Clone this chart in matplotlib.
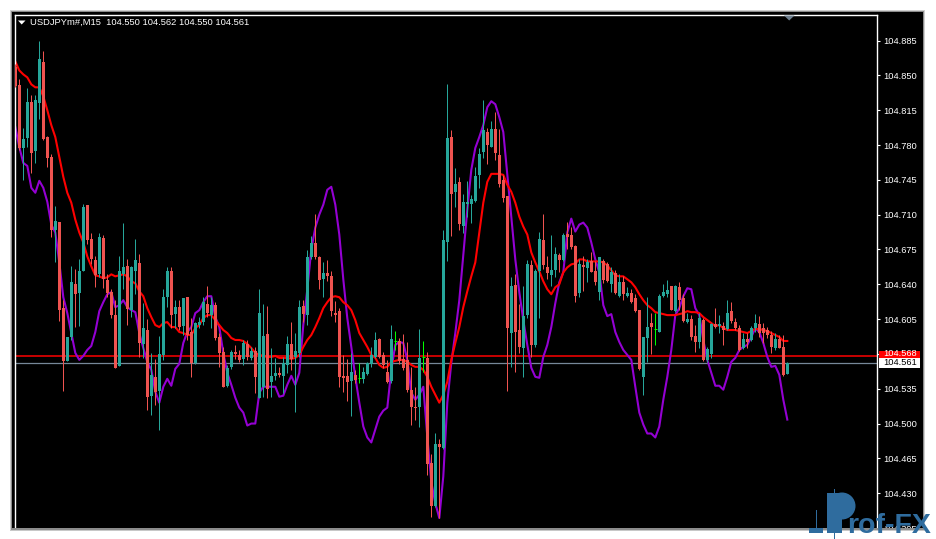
import matplotlib
matplotlib.use("Agg")
import matplotlib.pyplot as plt
import numpy as np
from matplotlib.patches import Rectangle, Polygon, Circle

plt.rcParams['font.family'] = ['Liberation Sans', 'DejaVu Sans']

title_text = "USDJPYm#,M15  104.550 104.562 104.550 104.561"
bid_price = 104.561
ask_price = 104.568
tick_prices = [104.885, 104.850, 104.815, 104.780, 104.745, 104.710, 104.675, 104.640,
               104.605, 104.570, 104.535, 104.500, 104.465, 104.430, 104.395]
tick_labels = ['104.885', '104.850', '104.815', '104.780', '104.745', '104.710', '104.675', '104.640',
               '104.605', '', '104.535', '104.500', '104.465', '104.430', '104.395']

opens = [104.858,104.840,104.777,104.787,104.823,104.774,104.822,104.863,104.788,104.768,
104.695,104.703,104.616,104.563,104.587,104.640,104.631,104.653,104.720,104.686,
104.664,104.650,104.687,104.644,104.632,104.609,104.558,104.650,104.658,104.614,
104.653,104.661,104.580,104.594,104.528,104.547,104.533,104.569,104.627,104.653,
104.610,104.617,104.598,104.627,104.592,104.561,104.599,104.602,104.620,104.609,
104.619,104.587,104.572,104.538,104.557,104.572,104.569,104.565,104.580,104.566,
104.573,104.526,104.537,104.590,104.542,104.548,104.551,104.548,104.559,104.580,
104.567,104.571,104.618,104.609,104.667,104.681,104.667,104.645,104.651,104.648,
104.611,104.613,104.548,104.548,104.543,104.549,104.546,104.545,104.550,104.560,
104.567,104.585,104.569,104.552,104.543,104.583,104.583,104.565,104.564,104.534,
104.517,104.517,104.567,104.566,104.460,104.417,104.479,104.475,104.683,104.788,
104.733,104.743,104.699,104.721,104.721,104.724,104.750,104.773,104.793,104.778,
104.796,104.770,104.745,104.729,104.591,104.639,104.594,104.576,104.609,104.659,
104.579,104.653,104.685,104.657,104.649,104.654,104.669,104.664,104.691,104.690,
104.678,104.631,104.659,104.656,104.663,104.653,104.632,104.663,104.660,104.640,
104.651,104.628,104.642,104.628,104.631,104.626,104.614,104.547,104.586,104.601,
104.595,104.592,104.628,104.630,104.638,104.613,104.637,104.626,104.602,104.605,
104.588,104.582,104.604,104.564,104.570,104.600,104.598,104.598,104.595,104.613,
104.602,104.596,104.576,104.585,104.584,104.596,104.600,104.596,104.594,104.589,
104.576,104.585,104.577,104.550]

closes = [104.839,104.777,104.786,104.823,104.772,104.825,104.866,104.786,104.767,104.695,
104.704,104.614,104.563,104.587,104.642,104.630,104.653,104.718,104.685,104.665,
104.649,104.688,104.645,104.631,104.609,104.556,104.653,104.657,104.615,104.657,
104.664,104.581,104.596,104.527,104.549,104.532,104.570,104.627,104.653,104.609,
104.617,104.597,104.626,104.589,104.561,104.601,104.602,104.622,104.611,104.619,
104.586,104.571,104.537,104.556,104.572,104.570,104.564,104.581,104.567,104.573,
104.547,104.611,104.588,104.535,104.548,104.551,104.549,104.561,104.580,104.565,
104.573,104.617,104.610,104.667,104.682,104.667,104.644,104.651,104.648,104.613,
104.609,104.547,104.546,104.542,104.552,104.544,104.546,104.552,104.561,104.569,
104.584,104.567,104.559,104.542,104.585,104.583,104.563,104.556,104.534,104.517,
104.516,104.566,104.567,104.459,104.417,104.479,104.476,104.685,104.787,104.731,
104.741,104.701,104.723,104.723,104.726,104.749,104.771,104.795,104.780,104.796,
104.772,104.741,104.727,104.596,104.638,104.592,104.577,104.608,104.660,104.579,
104.653,104.686,104.659,104.651,104.654,104.670,104.664,104.690,104.688,104.677,
104.628,104.660,104.657,104.662,104.652,104.642,104.667,104.644,104.643,104.652,
104.631,104.642,104.630,104.631,104.622,104.613,104.555,104.587,104.597,104.597,
104.595,104.628,104.632,104.634,104.614,104.638,104.624,104.603,104.605,104.587,
104.582,104.606,104.564,104.575,104.600,104.597,104.600,104.594,104.611,104.603,
104.596,104.574,104.585,104.582,104.596,104.601,104.591,104.591,104.589,104.577,
104.585,104.576,104.549,104.561]

highs = [104.861,104.846,104.797,104.837,104.830,104.830,104.885,104.875,104.789,104.771,
104.719,104.703,104.624,104.587,104.658,104.655,104.665,104.721,104.720,104.692,
104.668,104.692,104.690,104.650,104.635,104.624,104.668,104.702,104.665,104.658,
104.686,104.670,104.621,104.605,104.571,104.565,104.588,104.635,104.657,104.657,
104.624,104.624,104.626,104.627,104.606,104.602,104.607,104.627,104.638,104.627,
104.622,104.591,104.577,104.559,104.574,104.579,104.574,104.584,104.584,104.577,
104.577,104.635,104.620,104.618,104.576,104.566,104.557,104.567,104.588,104.602,
104.591,104.624,104.624,104.674,104.689,104.711,104.668,104.662,104.664,104.653,
104.623,104.616,104.569,104.565,104.571,104.554,104.561,104.557,104.562,104.577,
104.592,104.586,104.572,104.564,104.599,104.593,104.586,104.590,104.582,104.557,
104.537,104.595,104.583,104.572,104.469,104.491,104.484,104.695,104.841,104.795,
104.757,104.748,104.731,104.744,104.730,104.758,104.777,104.825,104.797,104.804,
104.813,104.796,104.750,104.729,104.647,104.650,104.620,104.638,104.664,104.664,
104.655,104.693,104.711,104.668,104.690,104.677,104.671,104.692,104.703,104.698,
104.679,104.665,104.668,104.665,104.672,104.663,104.667,104.665,104.662,104.657,
104.654,104.650,104.648,104.637,104.635,104.630,104.614,104.587,104.627,104.611,
104.611,104.630,104.640,104.644,104.638,104.639,104.642,104.630,104.611,104.609,
104.599,104.611,104.606,104.577,104.601,104.616,104.609,104.602,104.624,104.622,
104.606,104.599,104.591,104.591,104.598,104.610,104.608,104.601,104.597,104.593,
104.591,104.589,104.589,104.562]

lows = [104.838,104.775,104.745,104.778,104.752,104.762,104.806,104.785,104.758,104.688,
104.662,104.603,104.533,104.563,104.584,104.597,104.598,104.653,104.680,104.660,
104.637,104.647,104.636,104.627,104.606,104.556,104.558,104.635,104.599,104.607,
104.630,104.567,104.566,104.514,104.509,104.519,104.494,104.564,104.617,104.596,
104.596,104.594,104.589,104.584,104.547,104.560,104.596,104.599,104.607,104.596,
104.584,104.557,104.537,104.537,104.555,104.565,104.562,104.559,104.564,104.564,
104.531,104.526,104.527,104.526,104.527,104.544,104.547,104.531,104.551,104.554,
104.512,104.567,104.602,104.599,104.665,104.665,104.635,104.627,104.643,104.608,
104.602,104.537,104.532,104.523,104.508,104.541,104.541,104.541,104.549,104.557,
104.566,104.566,104.556,104.541,104.541,104.574,104.560,104.554,104.532,104.499,
104.504,104.497,104.552,104.448,104.406,104.416,104.405,104.474,104.663,104.689,
104.718,104.695,104.692,104.708,104.702,104.723,104.737,104.767,104.761,104.778,
104.765,104.738,104.723,104.533,104.557,104.552,104.571,104.547,104.606,104.567,
104.577,104.606,104.655,104.645,104.638,104.647,104.652,104.663,104.675,104.675,
104.622,104.627,104.633,104.642,104.652,104.639,104.624,104.641,104.642,104.632,
104.630,104.627,104.624,104.627,104.621,104.612,104.554,104.529,104.562,104.570,
104.579,104.592,104.627,104.627,104.614,104.612,104.614,104.602,104.601,104.584,
104.572,104.576,104.563,104.562,104.566,104.596,104.591,104.579,104.594,104.601,
104.594,104.573,104.575,104.576,104.583,104.592,104.587,104.581,104.586,104.571,
104.574,104.576,104.548,104.550]

fast_ma = [104.798,104.778,104.762,104.759,104.737,104.732,104.744,104.737,104.723,104.700,
104.692,104.662,104.627,104.611,104.591,104.571,104.564,104.568,104.574,104.578,
104.592,104.613,104.622,104.630,104.632,104.617,104.619,104.624,104.617,104.614,
104.612,104.591,104.576,104.562,104.554,104.532,104.521,104.537,104.545,104.538,
104.555,104.560,104.581,104.592,104.597,104.611,104.614,104.622,104.628,104.628,
104.607,104.597,104.571,104.551,104.539,104.526,104.516,104.511,104.498,104.500,
104.500,104.531,104.537,104.537,104.537,104.537,104.527,104.528,104.539,104.548,
104.539,104.551,104.599,104.635,104.675,104.697,104.710,104.720,104.735,104.738,
104.720,104.690,104.645,104.606,104.577,104.547,104.521,104.497,104.486,104.481,
104.494,104.507,104.513,104.516,104.554,104.579,104.582,104.581,104.564,104.531,
104.524,104.529,104.537,104.487,104.441,104.420,104.405,104.447,104.521,104.561,
104.591,104.624,104.670,104.715,104.755,104.777,104.788,104.800,104.818,104.824,
104.821,104.808,104.793,104.750,104.708,104.665,104.632,104.604,104.579,104.556,
104.547,104.546,104.567,104.579,104.597,104.621,104.642,104.652,104.692,104.706,
104.693,104.700,104.702,104.697,104.682,104.665,104.652,104.619,104.608,104.610,
104.592,104.582,104.574,104.569,104.564,104.537,104.511,104.499,104.490,104.490,
104.486,104.497,104.524,104.547,104.574,104.609,104.616,104.628,104.636,104.635,
104.616,104.609,104.584,104.564,104.551,104.538,104.538,104.534,104.547,104.562,
104.566,104.574,104.577,104.579,104.587,104.596,104.592,104.581,104.567,104.557,
104.558,104.549,104.524,104.504]

slow_ma = [104.864,104.855,104.851,104.848,104.841,104.838,104.838,104.829,104.815,104.800,
104.788,104.768,104.748,104.732,104.722,104.705,104.692,104.682,104.668,104.658,
104.649,104.648,104.646,104.647,104.650,104.648,104.649,104.650,104.648,104.643,
104.641,104.633,104.628,104.616,104.607,104.599,104.597,104.601,104.602,104.597,
104.597,104.592,104.591,104.589,104.589,104.596,104.599,104.606,104.609,104.609,
104.604,104.599,104.594,104.591,104.586,104.584,104.584,104.583,104.580,104.576,
104.571,104.569,104.568,104.567,104.567,104.568,104.566,104.566,104.566,104.565,
104.566,104.569,104.577,104.584,104.589,104.597,104.606,104.616,104.622,104.627,
104.628,104.627,104.622,104.619,104.614,104.604,104.591,104.584,104.577,104.569,
104.566,104.559,104.556,104.557,104.562,104.563,104.564,104.564,104.562,104.559,
104.557,104.557,104.554,104.547,104.537,104.529,104.521,104.529,104.542,104.564,
104.581,104.597,104.617,104.633,104.648,104.662,104.692,104.722,104.743,104.751,
104.751,104.751,104.750,104.740,104.733,104.722,104.708,104.698,104.690,104.672,
104.662,104.653,104.643,104.635,104.630,104.637,104.640,104.652,104.657,104.660,
104.661,104.665,104.665,104.663,104.663,104.663,104.663,104.662,104.659,104.654,
104.649,104.648,104.648,104.645,104.642,104.637,104.630,104.624,104.619,104.616,
104.612,104.611,104.610,104.609,104.609,104.609,104.610,104.611,104.613,104.612,
104.612,104.611,104.607,104.604,104.601,104.598,104.599,104.596,104.594,104.594,
104.594,104.593,104.592,104.591,104.593,104.595,104.595,104.594,104.593,104.591,
104.589,104.587,104.583,104.583]

UP, DOWN, DOJI = '#26a69a', '#ef5350', '#00ff00'
W, H = 936, 539
fig = plt.figure(figsize=(W / 100, H / 100), dpi=100, facecolor='white')

# window frame
bg = fig.add_axes([0, 0, 1, 1], zorder=0)
bg.set_xlim(0, W); bg.set_ylim(H, 0); bg.axis('off')
bg.add_patch(Rectangle((10, 10), 915, 522, fc='#cfcfcf', ec='none'))
bg.add_patch(Rectangle((11, 11), 913, 519, fc='#8c8c8c', ec='none'))
bg.add_patch(Rectangle((12, 12), 911, 516, fc='black', ec='none'))

# price pane
L, T, R, B = 15, 15, 877, 528
ax = fig.add_axes([L / W, 1 - B / H, (R - L) / W, (B - T) / H], zorder=1, facecolor='black')
ax.set_xlim((L - 15.3) / 4, (R - 15.3) / 4)
ax.set_ylim(104.3951, 104.9107)
x = np.arange(len(opens))
o, c, hi, lo = map(np.array, (opens, closes, highs, lows))

ax.axhline(ask_price, color='#ff0000', lw=1.1, zorder=1)
ax.axhline(bid_price, color='#778899', lw=0.9, zorder=1)
ax.plot(x, fast_ma, color='#9400d3', lw=1.5, zorder=2, solid_joinstyle='round')
ax.plot(x, slow_ma, color='#ff0000', lw=1.5, zorder=2.1, solid_joinstyle='round')

colors = np.where(c > o, UP, np.where(c < o, DOWN, DOJI))
ax.vlines(x, lo, hi, colors=colors, lw=0.72, zorder=3)
body = c != o
ax.bar(x[body], np.abs(c - o)[body], bottom=np.minimum(o, c)[body], width=0.8,
       color=colors[body], lw=0, zorder=4)
ax.hlines(o[~body], x[~body] - 0.4, x[~body] + 0.4, colors=DOJI, lw=0.72, zorder=4)

for s in ('top', 'left', 'right'):
    ax.spines[s].set_color('white'); ax.spines[s].set_linewidth(1.0)
ax.spines['bottom'].set_visible(False)
ax.set_xticks([])
ax.set_yticks(tick_prices)
ax.set_yticklabels(tick_labels)
ax.tick_params(axis='y', left=False, labelleft=False, right=True, labelright=True,
               colors='white', length=2.5, width=0.8, pad=2, labelsize=6.7)

trans = ax.get_yaxis_transform()
bw = 41 / (R - L); bx = 1 + 2 / (R - L)
ax.add_patch(Rectangle((bx, ask_price - 0.0053), bw, 0.0106, transform=trans, fc='#ff0000',
                       ec='none', clip_on=False, zorder=6))
ax.text(bx + 4 / (R - L), ask_price + 0.002, f'{ask_price:.3f}', transform=trans, color='white',
        fontsize=6.7, va='center', ha='left', zorder=6.1, clip_on=False)
ax.add_patch(Rectangle((bx, bid_price - 0.0053), bw, 0.0106, transform=trans, fc='white',
                       ec='none', clip_on=False, zorder=7))
ax.text(bx + 4 / (R - L), bid_price, f'{bid_price:.3f}', transform=trans, color='black',
        fontsize=6.7, va='center', ha='left', zorder=7.1, clip_on=False)

# overlay: header, markers, bottom shadow, logo
top = fig.add_axes([0, 0, 1, 1], zorder=5)
top.set_xlim(0, W); top.set_ylim(H, 0); top.axis('off'); top.patch.set_alpha(0)
top.add_patch(Polygon([(18, 20.5), (25.5, 20.5), (21.7, 24.5)], fc='white', ec='none'))
top.text(30, 22.3, title_text, color='white', fontsize=6.75, va='center', ha='left')
top.add_patch(Polygon([(784, 15.5), (794.5, 15.5), (789.2, 20.5)], fc='#6f8090', ec='none'))
top.add_patch(Rectangle((0, 529.6), 936, 10, fc='white', ec='none'))
top.add_patch(Rectangle((11, 528), 913, 1.6, fc='#8c8c8c', ec='none'))
top.add_patch(Rectangle((10, 529.6), 915, 1.5, fc='#c8c8c8', ec='none'))

LOGO = '#2f6c9e'
top.add_patch(Rectangle((827, 493), 15, 40, fc=LOGO, ec='none'))
top.add_patch(Circle((842, 506), 13.5, fc=LOGO, ec='none'))
top.add_patch(Rectangle((809, 528), 14, 5, fc=LOGO, ec='none'))
top.add_patch(Rectangle((816, 510), 1, 23, fc=LOGO, ec='none'))
top.add_patch(Rectangle((833.5, 489), 1, 50, fc=LOGO, ec='none'))
top.text(847, 533, 'rof-FX', color=LOGO, fontsize=20.5, fontweight='bold', va='baseline',
         ha='left')

fig.savefig('out.png', dpi=100, facecolor='white')
